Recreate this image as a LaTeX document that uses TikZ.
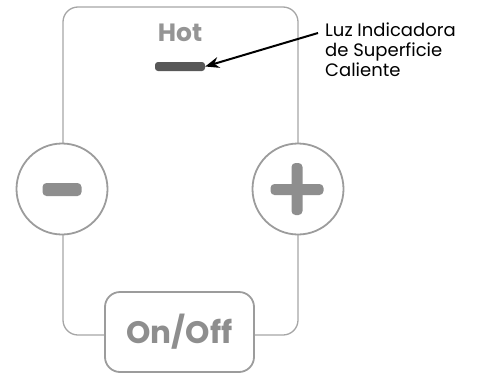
\documentclass[tikz,border=0pt]{standalone}
\usepackage{fontspec}
\setmainfont{Poppins}
\usetikzlibrary{arrows.meta}
\definecolor{frame}{HTML}{A6A6A6}
\definecolor{ring}{HTML}{9C9C9C}
\definecolor{sym}{HTML}{8E8E8E}
\definecolor{txt}{HTML}{959595}
\definecolor{ind}{HTML}{585858}
\tikzset{
  btn/.style={circle, draw=ring, line width=1.8pt, fill=white, minimum size=91pt, inner sep=0pt},
  bar/.style={rounded corners=4pt, fill=sym, draw=none, inner sep=0pt},
}
\begin{document}
\begin{tikzpicture}[x=1pt,y=-1pt]
\useasboundingbox (0,0) rectangle (478,380);
% main frame
\draw[frame, line width=1.3pt, rounded corners=15pt] (63,7) rectangle (298,335);
% buttons
\node[btn] (minus) at (62,189) {};
\node[btn] (plus) at (298,189) {};
\node[bar, minimum width=39pt, minimum height=13pt] (mbar) at (62,189.5) {};
\node[bar, minimum width=53pt, minimum height=11pt] (ph) at (297,189.5) {};
\node[bar, minimum width=11pt, minimum height=52pt] (pv) at (297,189) {};
% on/off
\node[draw=ring, line width=1.8pt, fill=white, rounded corners=15pt, minimum width=149pt, minimum height=80pt, inner sep=0pt, text=sym, font=\fontsize{31}{31}\selectfont\bfseries] (onoff) at (179.5,332) {On/Off};
% hot
\node[text=txt, font=\fontsize{25}{25}\selectfont\bfseries, inner sep=0pt] (hot) at (180,33) {Hot};
\node[rounded corners=3pt, fill=ind, minimum width=50pt, minimum height=9pt, inner sep=0pt] (light) at (180,66.5) {};
% label
\node[anchor=north west, align=left, inner sep=0pt, font=\fontsize{18}{20}\selectfont] (lbl) at (325,23) {Luz Indicadora\\de Superficie\\Caliente};
\coordinate (start) at (318,33);
\draw[line width=2pt, -{Stealth[length=14pt,width=11pt]}] (start) -- (light.east);
\end{tikzpicture}
\end{document}
